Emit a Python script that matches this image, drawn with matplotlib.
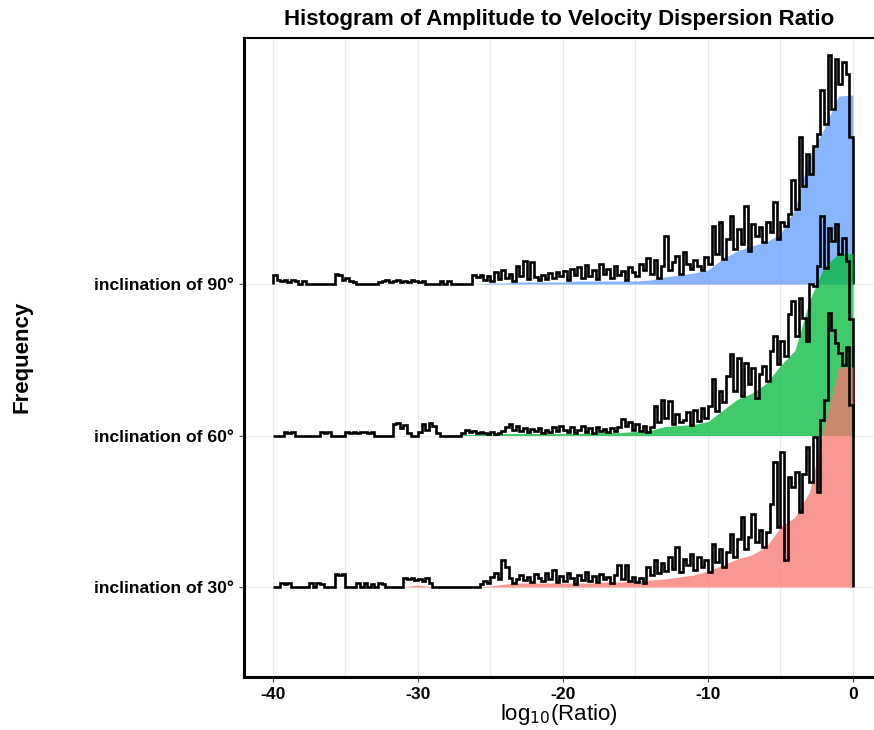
import matplotlib
matplotlib.use("Agg")
import matplotlib.pyplot as plt
import numpy as np

plt.rcParams['font.family'] = ['Liberation Sans', 'DejaVu Sans']
plt.rcParams['axes.unicode_minus'] = False

labels = ["inclination of 30°", "inclination of 60°", "inclination of 90°"]
colors = ["#F8766D", "#00BA38", "#619CFF"]

# histogram bins: 0.25 wide from -40 to 0
edges = np.linspace(-40, 0, 161)
# coarse level of the filled area, one value per unit of log10(Ratio)
knots = np.arange(-40, 1)

# counts (outline), 20 bins per row = 5 units
h90 = [9, 4, 3, 4, 2, 4, 3, 0, 3, 0, 0, 0, 0, 0, 0, 0, 0, 10, 9, 4,
       6, 3, 2, 0, 0, 0, 0, 0, 0, 2, 3, 4, 2, 3, 4, 2, 3, 2, 4, 3,
       2, 3, 0, 0, 0, 0, 3, 0, 3, 0, 0, 0, 0, 0, 0, 9, 7, 9, 4, 8,
       3, 12, 5, 14, 6, 10, 3, 18, 8, 23, 5, 22, 7, 4, 9, 5, 11, 6, 12, 8,
       13, 4, 15, 9, 17, 6, 19, 8, 14, 5, 20, 10, 15, 6, 18, 9, 13, 4, 17, 12,
       8, 20, 14, 26, 10, 24, 6, 18, 48, 14, 22, 28, 10, 32, 20, 15, 24, 18, 14, 27,
       20, 58, 30, 62, 25, 45, 68, 35, 55, 40, 78, 33, 60, 48, 57, 42, 62, 52, 82, 45,
       62, 58, 70, 104, 75, 147, 98, 130, 110, 138, 150, 194, 160, 229, 175, 225, 200, 222, 210, 147]

h60 = [0, 0, 0, 4, 3, 4, 0, 0, 0, 0, 0, 0, 0, 4, 3, 4, 0, 0, 0, 0,
       4, 3, 4, 3, 4, 4, 3, 4, 0, 0, 0, 0, 0, 12, 13, 8, 11, 3, 0, 0,
       4, 12, 6, 13, 10, 3, 0, 0, 0, 0, 0, 0, 3, 6, 4, 5, 3, 4, 3, 2,
       4, 2, 3, 5, 9, 12, 6, 10, 5, 8, 4, 7, 5, 8, 3, 6, 4, 9, 5, 10,
       6, 4, 9, 3, 6, 10, 4, 8, 3, 9, 5, 7, 4, 8, 5, 9, 17, 10, 14, 6,
       12, 5, 10, 4, 9, 30, 14, 36, 18, 35, 12, 22, 14, 16, 24, 11, 26, 15, 28, 18,
       30, 57, 25, 45, 34, 60, 82, 45, 78, 40, 73, 52, 68, 38, 62, 70, 55, 85, 100, 72,
       95, 80, 122, 135, 100, 138, 118, 95, 152, 150, 170, 220, 168, 208, 195, 212, 182, 198, 175, 117]

h30 = [0, 0, 4, 3, 4, 0, 0, 0, 0, 0, 4, 0, 4, 3, 0, 0, 0, 13, 12, 13,
       0, 0, 0, 4, 0, 4, 0, 3, 0, 4, 3, 0, 0, 0, 0, 0, 9, 8, 9, 7,
       8, 6, 9, 4, 0, 0, 0, 0, 0, 0, 0, 0, 0, 0, 0, 0, 0, 3, 6, 4,
       10, 14, 8, 27, 20, 9, 4, 8, 12, 7, 10, 5, 13, 9, 6, 14, 8, 17, 5, 11,
       6, 14, 9, 3, 12, 7, 15, 6, 11, 5, 13, 8, 10, 4, 12, 22, 8, 22, 6, 10,
       5, 9, 4, 20, 12, 27, 14, 24, 16, 30, 18, 40, 15, 28, 22, 33, 17, 30, 20, 27,
       15, 43, 25, 38, 20, 35, 53, 30, 48, 70, 38, 50, 73, 45, 57, 40, 55, 83, 125, 60,
       135, 27, 110, 100, 115, 75, 113, 140, 105, 150, 95, 167, 187, 274, 257, 244, 234, 222, 240, 182]

# filled area levels at x = -40, -39, ..., 0
f90 = [0, 0, 0, 0, 0, 0, 0, 0, 0, 0, 0, 0, 0, 0, 0,
       1, 1, 2, 2, 2, 2, 3, 3, 3, 3, 3, 4, 7, 9, 11, 14, 25, 33, 38, 42, 50, 75, 128, 155, 188, 189]
f60 = [0, 0, 0, 0, 0, 0, 0, 0, 0, 0, 0, 0, 0,
       1, 1, 1, 2, 2, 2, 2, 2, 2, 3, 3, 3, 4, 5, 9, 10, 11, 14, 25, 36, 42, 52, 70, 85, 135, 168, 182, 182]
f30 = [0, 0, 0, 0, 0, 0, 0, 0, 0,
       0, 2, 0, 0, 0, 0, 1, 3, 4, 4, 4, 4, 4, 4, 5, 5, 6, 7, 8, 10, 12, 16, 22, 28, 32, 40, 60, 70, 95, 160, 220, 220]

counts = [h30, h60, h90]
fills = [f30, f60, f90]
scale = 1 / 151.5

fig = plt.figure(figsize=(8.74, 7.3), dpi=100)
ax = fig.add_axes([244 / 874, 53 / 730, 630 / 874, 639 / 730])

# top ridge first so the lower ones sit on top
for i in [2, 1, 0]:
    base = i + 1
    z = 10 + (2 - i) * 2
    ax.fill_between(knots, base, base + np.array(fills[i]) * scale,
                    color=colors[i], alpha=0.75, lw=0, zorder=z)
    ax.stairs(base + np.array(counts[i]) * scale, edges, baseline=base,
              fill=False, color='black', lw=1.9, zorder=z + 1)

ax.set_xlim(-42, 1.45)
ax.set_ylim(0.406, 4.624)
ax.set_xticks([-40, -30, -20, -10, 0])
ax.set_xticks([-35, -25, -15, -5], minor=True)
ax.set_yticks([1, 2, 3])
ax.set_yticklabels(labels)
ax.grid(which='both', axis='x', color='#EBEBEB', lw=0.8, zorder=0)
ax.grid(which='major', axis='y', color='#EBEBEB', lw=0.8, zorder=0)
ax.set_axisbelow(True)

ax.tick_params(which='major', length=3.5, width=0.8, color='#444444')
ax.tick_params(which='minor', length=0)
for lab in ax.get_xticklabels() + ax.get_yticklabels():
    lab.set_fontweight('bold')
    lab.set_fontsize(12.6)
    lab.set_color('black')

ax.spines['right'].set_visible(False)
ax.spines['left'].set_linewidth(2.2)
ax.spines['bottom'].set_linewidth(2.2)
ax.spines['top'].set_linewidth(1.5)

ax.set_title("Histogram of Amplitude to Velocity Dispersion Ratio",
             fontsize=16, fontweight='bold', pad=9)
ax.set_xlabel(r"log$_{10}$(Ratio)", fontsize=16, labelpad=0)
fig.text(0.025, 0.511, "Frequency", rotation=90, fontsize=16,
         fontweight='bold', ha='center', va='center')

fig.savefig("out.png", dpi=100)
